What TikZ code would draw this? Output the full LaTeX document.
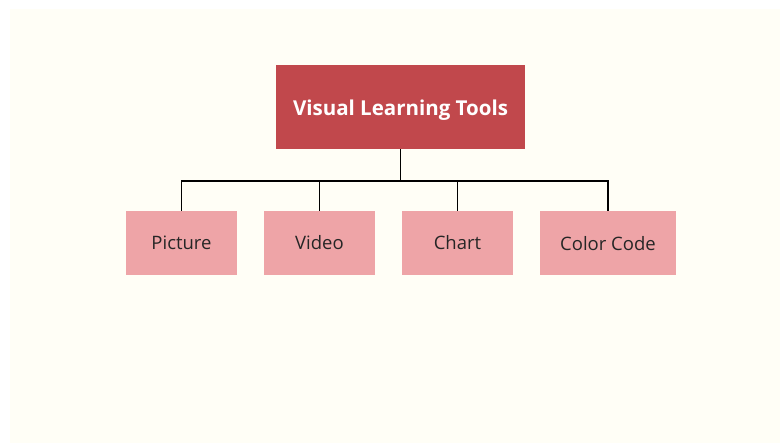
\documentclass[tikz,border=0pt]{standalone}
\usepackage{fontspec}
\setmainfont{Open Sans}
\usepackage{tikz}
\usetikzlibrary{positioning}
\definecolor{creambg}{HTML}{FFFEF6}
\definecolor{toolred}{HTML}{C1484C}
\definecolor{toolpink}{HTML}{EEA4A7}

\begin{document}
\begin{tikzpicture}
		[x=1pt, y=-1pt, inner sep=0pt,
		root/.style	= {rectangle,fill=toolred,text=white,font=\fontsize{20.5}{24}\selectfont\bfseries,text height=18pt,text depth=0pt,minimum width=249pt,minimum height=84pt},
		leaf/.style	= {rectangle,fill=toolpink,text=black!85,font=\fontsize{18.5}{22}\selectfont,minimum width=111pt,minimum height=64pt},
		paths/.style	= {draw=black, line width=1.4pt}]
		
		\useasboundingbox (0, 0) rectangle (780, 443);
		\fill [white] (0, 0) rectangle (780, 443);
		\fill [creambg] (10, 9) rectangle (780, 443);
		
		\node at (400.5, 107)	[root]	(vlt)	{Visual Learning Tools};
		
		\node at (181.5, 243)	[leaf]	(pic)	{Picture};
		\node at (319.5, 243)	[leaf]	(vid)	{Video};
		\node at (457.5, 243)	[leaf]	(cha)	{Chart};
		\node at (608, 243.5)	[leaf, minimum width=136pt]	(cc)	{Color Code};
		
		\coordinate (bus) at (400.5, 181);
		
		\draw [paths] (vlt.south) -- (bus);
		\draw [paths] (pic.north) |- (bus) -| (cc.north);
		\draw [paths] (vid.north) -- (vid.north |- bus);
		\draw [paths] (cha.north) -- (cha.north |- bus);
		
		\end{tikzpicture}
\end{document}
